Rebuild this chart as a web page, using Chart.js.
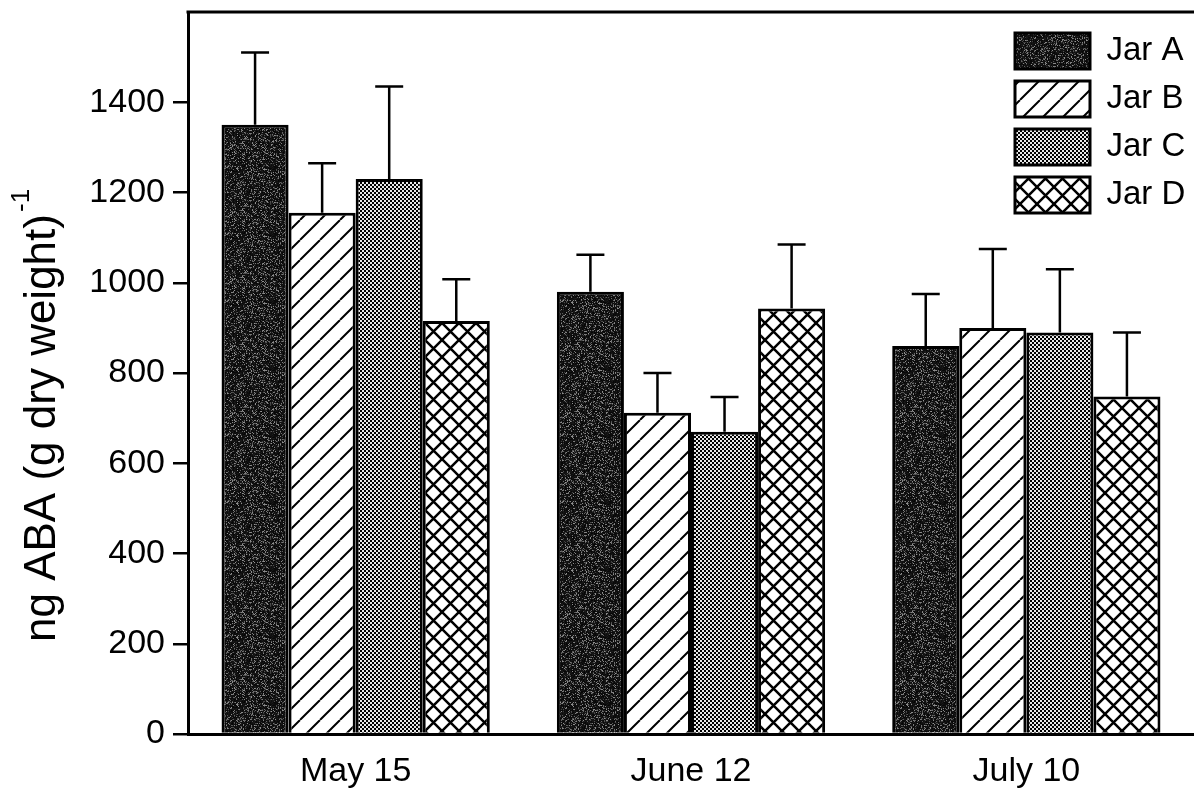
<!DOCTYPE html>
<html lang="en">
<head>
    <meta charset="UTF-8">
    <title>ABA content by jar</title>
    <script src="https://cdn.jsdelivr.net/npm/chart.js"></script>
    <style>
        body {
            margin: 0;
            background: #fff;
            font-family: "Liberation Sans", Arial, sans-serif;
        }
        .chart-container {
            width: 1194px;
            height: 792px;
        }
    </style>
</head>
<body>
    <div class="chart-container">
        <canvas id="abaChart"></canvas>
    </div>

    <script>
        // data
        const dates = ['May 15', 'June 12', 'July 10'];
        const jarLabels = ['Jar A', 'Jar B', 'Jar C', 'Jar D'];
        const jarA = [1350, 980, 860];
        const jarB = [1155, 712, 900];
        const jarC = [1230, 670, 890];
        const jarD = [915, 943, 748];
        // upper error (one sided)
        const jarAErr = [160, 82, 115];
        const jarBErr = [110, 88, 175];
        const jarCErr = [205, 77, 140];
        const jarDErr = [93, 142, 142];
        const yTicks = [0, 200, 400, 600, 800, 1000, 1200, 1400];

        const FONT = '"Liberation Sans", Arial, sans-serif';
        Chart.defaults.font.family = FONT;
        Chart.defaults.color = '#000';

        function hatch(size, lw, dirs) {
            const c = document.createElement('canvas');
            c.width = c.height = size;
            const g = c.getContext('2d');
            g.fillStyle = '#fff';
            g.fillRect(0, 0, size, size);
            g.strokeStyle = '#000';
            g.lineWidth = lw;
            g.beginPath();
            for (const k of [-1, 0, 1]) {
                if (dirs.includes('/')) { g.moveTo(k * size, size); g.lineTo(k * size + size, 0); }
                if (dirs.includes('\\')) { g.moveTo(k * size, 0); g.lineTo(k * size + size, size); }
            }
            g.stroke();
            return g.createPattern(c, 'repeat');
        }

        function checker() {
            const c = document.createElement('canvas');
            c.width = c.height = 4;
            const g = c.getContext('2d');
            g.fillStyle = '#000';
            g.fillRect(0, 0, 4, 4);
            g.fillStyle = '#e8e8e8';
            g.fillRect(0, 0, 2, 2);
            g.fillRect(2, 2, 2, 2);
            return g.createPattern(c, 'repeat');
        }

        // dark speckled fill like the scanned screen tone
        function speckle() {
            const n = 67;
            const c = document.createElement('canvas');
            c.width = c.height = n;
            const g = c.getContext('2d');
            const img = g.createImageData(n, n);
            for (let y = 0; y < n; y++) {
                for (let x = 0; x < n; x++) {
                    const s = Math.sin(x * 127.1 + y * 311.7) * 43758.5453;
                    const h = s - Math.floor(s);
                    const v = h < 0.75 ? 5 + 22 * h / 0.75 : 55 + 95 * (h - 0.75) / 0.25;
                    const i = (y * n + x) * 4;
                    img.data[i] = img.data[i + 1] = img.data[i + 2] = v;
                    img.data[i + 3] = 255;
                }
            }
            g.putImageData(img, 0, 0);
            return g.createPattern(c, 'repeat');
        }

        const errorBars = {
            id: 'errorBars',
            afterDatasetsDraw(chart) {
                const ctx = chart.ctx;
                const y = chart.scales.y;
                chart.data.datasets.forEach((ds, i) => {
                    const meta = chart.getDatasetMeta(i);
                    meta.data.forEach((bar, j) => {
                        const top = y.getPixelForValue(ds.data[j] + ds.errors[j]);
                        ctx.save();
                        ctx.strokeStyle = '#000';
                        ctx.lineWidth = 2.5;
                        ctx.beginPath();
                        ctx.moveTo(bar.x, bar.y);
                        ctx.lineTo(bar.x, top);
                        ctx.moveTo(bar.x - 14, top);
                        ctx.lineTo(bar.x + 14, top);
                        ctx.stroke();
                        ctx.restore();
                    });
                });
            }
        };

        const frame = {
            id: 'frame',
            afterDraw(chart) {
                const ctx = chart.ctx;
                const a = chart.chartArea;
                ctx.save();
                ctx.strokeStyle = '#000';
                ctx.lineWidth = 3;
                ctx.beginPath();
                ctx.moveTo(a.left - 1.5, a.top);
                ctx.lineTo(chart.width, a.top);
                ctx.stroke();

                // y title with superscript
                ctx.fillStyle = '#000';
                ctx.translate(55, 642);
                ctx.rotate(-Math.PI / 2);
                ctx.textBaseline = 'alphabetic';
                ctx.textAlign = 'left';
                ctx.font = '44px ' + FONT;
                const main = 'ng ABA (g dry weight)';
                ctx.fillText(main, 0, 0);
                const w = ctx.measureText(main).width;
                ctx.font = '26px ' + FONT;
                ctx.fillText('-1', w + 2, -26);
                ctx.restore();
            }
        };

        const legendPlace = {
            id: 'legendPlace',
            afterLayout(chart) {
                const lg = chart.legend;
                const a = chart.chartArea;
                lg.left = a.right - 179 - 12;
                lg.top = a.top + 21 - 12;
            }
        };

        const ctx = document.getElementById('abaChart').getContext('2d');
        const fills = [speckle(), hatch(20, 2, '/'), checker(), hatch(17, 2.5, '/\\')];
        const values = [jarA, jarB, jarC, jarD];
        const errs = [jarAErr, jarBErr, jarCErr, jarDErr];

        new Chart(ctx, {
            type: 'bar',
            data: {
                labels: dates,
                datasets: jarLabels.map((name, i) => ({
                    label: name,
                    data: values[i],
                    errors: errs[i],
                    backgroundColor: fills[i],
                    borderColor: '#000',
                    borderWidth: 3,
                    categoryPercentage: 0.8,
                    barPercentage: 1.0
                }))
            },
            options: {
                responsive: true,
                maintainAspectRatio: false,
                animation: false,
                layout: { padding: { top: 12, left: 0, right: 0, bottom: 0 } },
                plugins: {
                    tooltip: { enabled: false },
                    legend: {
                        position: 'chartArea',
                        align: 'start',
                        labels: {
                            boxWidth: 75,
                            boxHeight: 36,
                            padding: 12,
                            color: '#000',
                            font: { size: 33 }
                        }
                    }
                },
                scales: {
                    x: {
                        grid: { display: false, drawTicks: false },
                        border: { display: true, color: '#000', width: 3 },
                        ticks: { font: { size: 34 }, padding: 17, color: '#000' },
                        afterFit(scale) {
                            scale.height = 58;
                            scale.paddingLeft = 0;
                            scale.paddingRight = 0;
                        }
                    },
                    y: {
                        min: 0,
                        max: 1600,
                        afterBuildTicks(scale) {
                            scale.ticks = yTicks.map(v => ({ value: v }));
                        },
                        grid: {
                            drawOnChartArea: false,
                            color: '#000',
                            lineWidth: 2.5,
                            tickLength: 15
                        },
                        border: { display: true, color: '#000', width: 3 },
                        ticks: {
                            font: { size: 34 },
                            padding: 8,
                            color: '#000',
                            callback: v => String(v)
                        },
                        afterFit(scale) {
                            scale.width = 188;
                            scale.paddingTop = 0;
                            scale.paddingBottom = 0;
                        }
                    }
                }
            },
            plugins: [errorBars, frame, legendPlace]
        });
    </script>
</body>
</html>
